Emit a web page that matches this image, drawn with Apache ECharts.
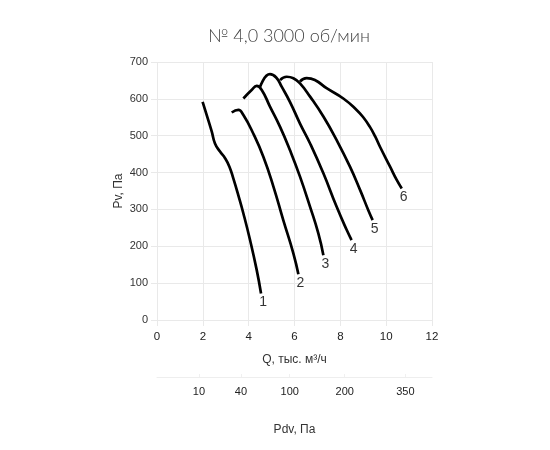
<!DOCTYPE html>
<html>
<head>
<meta charset="utf-8">
<script src="https://cdn.jsdelivr.net/npm/echarts@6/dist/echarts.min.js"></script>
<style>html,body{margin:0;padding:0;background:#fff}#c{width:550px;height:450px}</style>
</head>
<body>
<div id="c"></div>
<script>
// Curves: Q (thousand m3/h) and Pv (Pa)
var q1 = [1.99, 2.17, 2.39, 2.53, 2.75, 2.97, 3.16, 3.33, 3.55, 3.77, 4.06, 4.35, 4.54];
var p1 = [592, 556, 511, 479, 457, 439, 416, 384, 338, 289, 217, 136, 72];
var q2 = [3.26, 3.55, 3.77, 4.20, 4.64, 5.08, 5.51, 5.95, 6.17];
var p2 = [563, 570, 556, 506, 443, 362, 271, 181, 124];
var q3 = [3.77, 4.13, 4.35, 4.57, 4.93, 5.37, 5.80, 6.24, 6.68, 7.04, 7.26];
var p3 = [601, 624, 635, 624, 579, 524, 461, 389, 307, 235, 176];
var q4 = [4.49, 4.93, 5.20, 5.44, 5.80, 6.24, 6.68, 7.26, 7.84, 8.28, 8.49];
var p4 = [631, 667, 658, 633, 592, 533, 479, 398, 307, 244, 217];
var q5 = [5.37, 5.66, 5.95, 6.24, 6.68, 7.26, 7.84, 8.42, 8.86, 9.22, 9.41];
var p5 = [651, 660, 656, 642, 606, 552, 488, 416, 353, 298, 271];
var q6 = [6.24, 6.53, 6.89, 7.40, 8.13, 8.71, 9.00, 9.29, 9.52, 9.73, 10.17, 10.46, 10.68];
var p6 = [647, 656, 651, 629, 601, 570, 550, 524, 498, 470, 416, 380, 357];
var curveNames = ['1', '2', '3', '4', '5', '6'];

// Dynamic pressure scale tick labels (Pa) and their Q positions
var pdvTicks = [10, 40, 100, 200, 350];
var pdvQ = [1.83, 3.66, 5.79, 8.19, 10.84];

var xTicks = [0, 2, 4, 6, 8, 10, 12];
var yTicks = [0, 100, 200, 300, 400, 500, 600, 700];

var titleText = '№ 4,0 3000 об/мин';

var qs = [q1, q2, q3, q4, q5, q6];
var ps = [p1, p2, p3, p4, p5, p6];

function zip(a, b) { return a.map(function (v, i) { return [v, b[i]]; }); }

var series = qs.map(function (q, i) {
  return {
    type: 'line', name: curveNames[i], data: zip(q, ps[i]),
    smooth: 0.5, symbol: 'none', silent: true,
    lineStyle: { color: '#000', width: 2.7 }
  };
});
series.push({
  type: 'scatter', symbolSize: 0, silent: true,
  data: qs.map(function (q, i) {
    return { value: [q[q.length - 1], ps[i][ps[i].length - 1]], name: curveNames[i] };
  }),
  label: {
    show: true, position: 'bottom', distance: 2, offset: [2, 0],
    formatter: function (p) { return p.name; },
    color: '#000', fontSize: 14, fontFamily: 'Liberation Sans, Arial, sans-serif'
  }
});

var gridColor = '#e9e9e9';
var lblFont = 'Liberation Sans, Arial, sans-serif';

var chart = echarts.init(document.getElementById('c'), null, { renderer: 'canvas' });
chart.setOption({
  animation: false,
  backgroundColor: '#fff',
  title: {
    text: titleText, left: 284, top: 22, textAlign: 'center',
    textStyle: { fontFamily: 'Lato, sans-serif', fontWeight: 300, fontSize: 18, color: '#444' }
  },
  grid: { left: 157, right: 118, top: 62, bottom: 130 },
  xAxis: [{
    type: 'value', min: xTicks[0], max: xTicks[xTicks.length - 1], interval: 2,
    name: 'Q, тыс. м³/ч', nameLocation: 'middle', nameGap: 34,
    nameTextStyle: { fontFamily: lblFont, fontSize: 12, color: '#333' },
    axisLine: { show: false },
    axisTick: { show: true, length: 6, lineStyle: { color: gridColor } },
    axisLabel: { margin: 11, fontFamily: lblFont, fontSize: 11.5, color: '#222' },
    splitLine: { show: true, lineStyle: { color: gridColor, width: 1 } }
  }, {
    type: 'value', min: xTicks[0], max: xTicks[xTicks.length - 1], position: 'bottom', offset: 57,
    name: 'Pdv, Па', nameLocation: 'middle', nameGap: 47,
    nameTextStyle: { fontFamily: lblFont, fontSize: 12, color: '#333' },
    axisLine: { show: true, lineStyle: { color: '#eeeeee', width: 1 } },
    axisTick: { show: true, customValues: pdvQ, length: 3, inside: true, lineStyle: { color: '#f0f0f0' } },
    axisLabel: {
      show: true, customValues: pdvQ, margin: 9, fontFamily: lblFont, fontSize: 11, color: '#222',
      formatter: function (v) {
        var best = 0;
        for (var i = 0; i < pdvQ.length; i++) if (Math.abs(pdvQ[i] - v) < Math.abs(pdvQ[best] - v)) best = i;
        return String(pdvTicks[best]);
      }
    },
    splitLine: { show: false }
  }],
  yAxis: {
    type: 'value', min: yTicks[0], max: yTicks[yTicks.length - 1], interval: 100,
    name: 'Pv, Па', nameLocation: 'middle', nameGap: 32, nameRotate: 90,
    nameTextStyle: { fontFamily: lblFont, fontSize: 12, color: '#333' },
    axisLine: { show: false },
    axisTick: { show: true, length: 6, lineStyle: { color: gridColor } },
    axisLabel: { margin: 9, fontFamily: lblFont, fontSize: 11, color: '#333' },
    splitLine: { show: true, lineStyle: { color: gridColor, width: 1 } }
  },
  series: series
});
</script>
</body>
</html>
